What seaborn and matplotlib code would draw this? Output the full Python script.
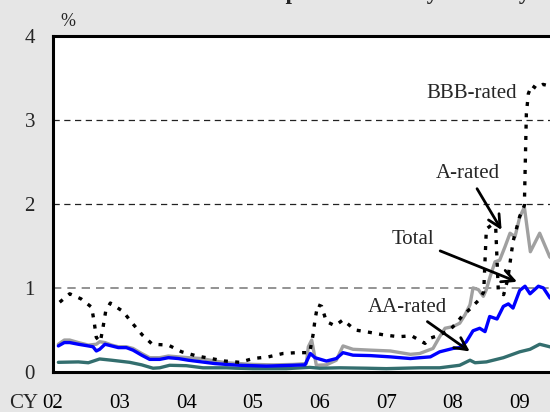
import matplotlib
matplotlib.use("Agg")
import matplotlib.pyplot as plt
import seaborn as sns
import pandas as pd

# decimal-year time axis, values in percent
total_t = [2002.08, 2002.17, 2002.25, 2002.38, 2002.53, 2002.6, 2002.65, 2002.7, 2002.78, 2002.88,
           2002.98, 2003.1, 2003.2, 2003.33, 2003.45, 2003.6, 2003.73, 2003.88, 2004.03, 2004.23,
           2004.43, 2004.6, 2004.8, 2005.0, 2005.2, 2005.4, 2005.6, 2005.78, 2005.86, 2005.93,
           2006.1, 2006.25, 2006.35, 2006.5, 2006.76, 2007.06, 2007.36, 2007.5, 2007.66, 2007.8,
           2008.0, 2008.1, 2008.2, 2008.3, 2008.4, 2008.48, 2008.55, 2008.66, 2008.755, 2008.83,
           2008.9, 2009.0, 2009.08, 2009.155, 2009.28, 2009.355, 2009.455, 2009.55]
total_v = [0.31, 0.35, 0.35, 0.33, 0.31, 0.30, 0.25, 0.27, 0.33, 0.31,
           0.29, 0.29, 0.26, 0.20, 0.15, 0.15, 0.17, 0.16, 0.14, 0.12,
           0.10, 0.09, 0.08, 0.075, 0.07, 0.075, 0.08, 0.085, 0.22, 0.17,
           0.13, 0.16, 0.23, 0.20, 0.195, 0.18, 0.16, 0.17, 0.18, 0.24,
           0.28, 0.29, 0.36, 0.49, 0.52, 0.48, 0.66, 0.63, 0.78, 0.81,
           0.76, 0.97, 1.02, 0.93, 1.02, 1.00, 0.88, 0.85]

a_t = [2002.08, 2002.17, 2002.25, 2002.38, 2002.53, 2002.65, 2002.7, 2002.78, 2002.88, 2002.98,
       2003.1, 2003.2, 2003.33, 2003.45, 2003.6, 2003.73, 2003.88, 2004.03, 2004.23, 2004.43,
       2004.6, 2004.8, 2005.0, 2005.3, 2005.6, 2005.8, 2005.83, 2005.88, 2005.95, 2006.1,
       2006.25, 2006.35, 2006.5, 2006.76, 2007.06, 2007.36, 2007.5, 2007.7, 2007.8, 2007.88,
       2008.0, 2008.1, 2008.18, 2008.255, 2008.3, 2008.38, 2008.455, 2008.5, 2008.555, 2008.63,
       2008.7, 2008.78, 2008.855, 2008.93, 2009.0, 2009.07, 2009.16, 2009.3, 2009.45, 2009.55]
a_v = [0.33, 0.38, 0.38, 0.35, 0.32, 0.33, 0.36, 0.35, 0.32, 0.30,
       0.30, 0.28, 0.22, 0.17, 0.17, 0.19, 0.18, 0.17, 0.16, 0.13,
       0.11, 0.10, 0.09, 0.085, 0.09, 0.10, 0.30, 0.38, 0.08, 0.085,
       0.14, 0.31, 0.27, 0.26, 0.25, 0.21, 0.22, 0.28, 0.42, 0.52,
       0.54, 0.58, 0.68, 0.80, 1.00, 0.98, 0.90, 0.98, 1.13, 1.31,
       1.33, 1.49, 1.65, 1.61, 1.84, 1.96, 1.43, 1.65, 1.37, 1.30]

aa_t = [2002.08, 2002.38, 2002.53, 2002.7, 2002.88, 2003.15, 2003.33, 2003.5, 2003.6, 2003.75,
        2004.0, 2004.25, 2004.6, 2004.75, 2005.0, 2005.5, 2005.85, 2006.0, 2006.3, 2006.7,
        2007.0, 2007.5, 2007.8, 2008.1, 2008.255, 2008.33, 2008.5, 2008.755, 2009.0, 2009.155,
        2009.3, 2009.4, 2009.55]
aa_v = [0.115, 0.12, 0.11, 0.155, 0.14, 0.115, 0.085, 0.045, 0.05, 0.08,
        0.075, 0.05, 0.05, 0.045, 0.04, 0.04, 0.055, 0.045, 0.05, 0.045,
        0.04, 0.05, 0.05, 0.08, 0.14, 0.11, 0.12, 0.17, 0.24, 0.27,
        0.33, 0.31, 0.28]

bbb_t = [2002.1, 2002.25, 2002.42, 2002.58, 2002.62, 2002.65, 2002.71, 2002.75, 2002.79, 2002.86,
         2003.05, 2003.19, 2003.34, 2003.49, 2003.73, 2003.93, 2004.16, 2004.37, 2004.58, 2004.8,
         2005.0, 2005.23, 2005.45, 2005.65, 2005.85, 2005.9, 2005.93, 2005.97, 2006.03, 2006.1,
         2006.23, 2006.35, 2006.53, 2006.76, 2006.97, 2007.18, 2007.38, 2007.58, 2007.65, 2007.8,
         2007.95, 2008.05, 2008.13, 2008.255, 2008.38, 2008.46, 2008.5, 2008.58, 2008.64, 2008.68,
         2008.76, 2008.82, 2008.9, 2009.0, 2009.07, 2009.1, 2009.13, 2009.18, 2009.25, 2009.35,
         2009.45, 2009.55]
bbb_v = [0.83, 0.93, 0.87, 0.77, 0.58, 0.41, 0.36, 0.53, 0.72, 0.82,
         0.72, 0.58, 0.44, 0.33, 0.32, 0.24, 0.19, 0.16, 0.13, 0.115,
         0.16, 0.18, 0.22, 0.23, 0.23, 0.44, 0.62, 0.80, 0.78, 0.60,
         0.55, 0.62, 0.50, 0.47, 0.44, 0.42, 0.43, 0.34, 0.40, 0.44,
         0.50, 0.58, 0.66, 0.75, 0.85, 0.95, 1.70, 1.75, 1.72, 0.95,
         0.92, 1.10, 1.55, 1.85, 1.98, 3.07, 3.31, 3.41, 3.37, 3.42,
         3.40, 3.35]

year_ticks = [2002, 2003, 2004, 2005, 2006, 2007, 2008, 2009]
year_labels = ["02", "03", "04", "05", "06", "07", "08", "09"]
y_ticks = [0, 1, 2, 3, 4]

sns.set_style("white")
plt.rcParams["font.family"] = ["Liberation Serif", "DejaVu Serif"]

fig = plt.figure(figsize=(5.5, 4.12), dpi=100, facecolor="#e6e6e6")
ax = fig.add_axes([53 / 550, 40 / 412, 7.6 * 66.67 / 550, 336.4 / 412])
ax.set_facecolor("white")

df_a = pd.DataFrame({"t": a_t, "v": a_v})
df_aa = pd.DataFrame({"t": aa_t, "v": aa_v})
df_tot = pd.DataFrame({"t": total_t, "v": total_v})
df_bbb = pd.DataFrame({"t": bbb_t, "v": bbb_v})

sns.lineplot(data=df_a, x="t", y="v", ax=ax, color="#a0a0a0", lw=2.4, sort=False)
sns.lineplot(data=df_aa, x="t", y="v", ax=ax, color="#336e6e", lw=2.4, sort=False)
sns.lineplot(data=df_tot, x="t", y="v", ax=ax, color="#0000ff", lw=2.4, sort=False)
sns.lineplot(data=df_bbb, x="t", y="v", ax=ax, color="black", lw=2.4,
             linestyle=(0, (1.2, 2.2)), sort=False)

ax.set_xlim(2002, 2009.6)
ax.set_ylim(0, 4)
ax.set_xticks(year_ticks)
ax.set_xticklabels(year_labels)
ax.set_yticks(y_ticks)
ax.set_xlabel("")
ax.set_ylabel("")
ax.tick_params(axis="x", direction="out", length=5, width=1.6, pad=11, labelsize=15, colors="black")
ax.tick_params(axis="y", length=0, pad=13, labelsize=15)

ax.grid(axis="y", linestyle=(0, (5, 3.6)), color="#222222", lw=0.9)
ax.get_ygridlines()[1].set_color("#808080")
ax.get_ygridlines()[1].set_linewidth(1.2)

for side in ["left", "bottom", "top"]:
    ax.spines[side].set_visible(True)
    ax.spines[side].set_color("black")
    ax.spines[side].set_linewidth(2.2)
ax.spines["right"].set_visible(False)

# labels and arrows
ax.text(2008.285, 3.31, "BBB-rated", ha="center", va="center", fontsize=15)
arrow = dict(arrowstyle="->", lw=2, color="black", mutation_scale=22)
ax.annotate("A-rated", xy=(2008.75, 1.66), xytext=(2008.225, 2.36),
            ha="center", va="center", fontsize=15, arrowprops=arrow)
ax.annotate("Total", xy=(2009.0, 1.06), xytext=(2007.40, 1.57),
            ha="center", va="center", fontsize=15, arrowprops=arrow)
ax.annotate("AA-rated", xy=(2008.285, 0.225), xytext=(2007.31, 0.77),
            ha="center", va="center", fontsize=15, arrowprops=arrow)

fig.text(68 / 550, 1 - 22 / 412, "%", ha="center", va="center", fontsize=13)
fig.text(38 / 550, 1 - 403 / 412, "CY", ha="right", va="center", fontsize=15)

# title sits above the visible area; only descenders show
fig.text(207 / 550, 1 + 1 / 412, "Default probabilities by maturity",
         ha="left", va="baseline", fontsize=16.5, fontweight="bold")

fig.savefig("out.png", dpi=100, facecolor=fig.get_facecolor())
